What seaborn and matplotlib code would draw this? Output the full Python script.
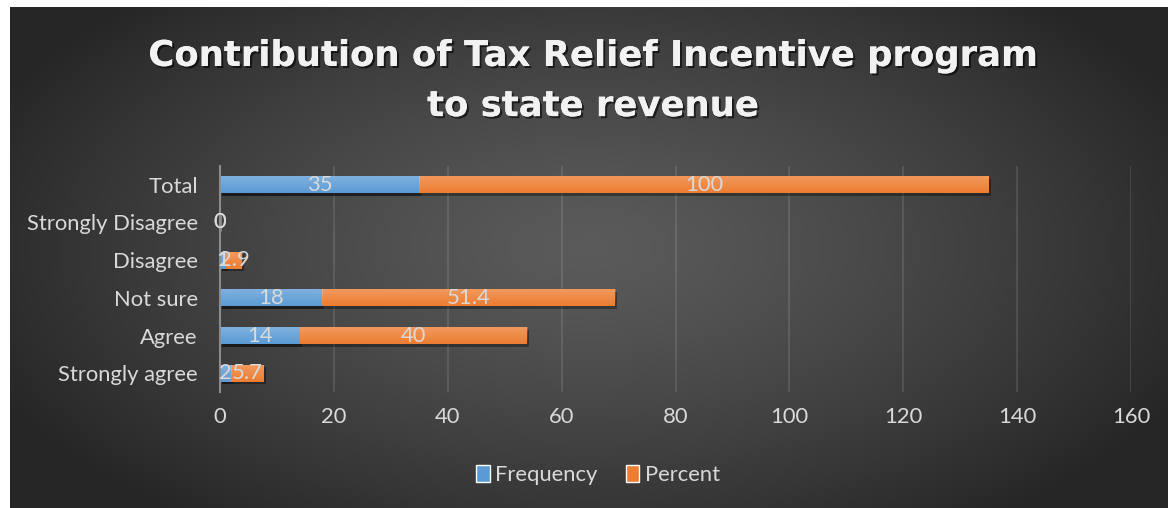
import numpy as np
import pandas as pd
import matplotlib
matplotlib.use("Agg")
import matplotlib.pyplot as plt
import matplotlib.patheffects as pe
from matplotlib.patches import Rectangle
import seaborn as sns

categories = ["Total", "Strongly Disagree", "Disagree", "Not sure", "Agree", "Strongly agree"]
frequency = [35, 0, 1, 18, 14, 2]
percent = [100, 0, 2.9, 51.4, 40, 5.7]
x_ticks = [0, 20, 40, 60, 80, 100, 120, 140, 160]
title_text = "Contribution of Tax Relief Incentive program\nto state revenue"

BLUE = "#5B9BD5"
ORANGE = "#ED7D31"
TEXT = "#D9D9D9"
FS = 15.8

sns.set_theme(style="white")
plt.rcParams["font.family"] = ["Lato", "DejaVu Sans"]

df = pd.DataFrame({"category": categories, "Frequency": frequency, "Percent": percent})
df["stack"] = df["Frequency"] + df["Percent"]

W, H = 1170, 508
fig = plt.figure(figsize=(W / 100, H / 100), dpi=100)
fig.patch.set_facecolor("white")

# dark radial-gradient panel behind the chart
bg = fig.add_axes([10 / W, 0, 1 - 10 / W - 2 / W, 1 - 7 / H])
yy, xx = np.mgrid[0:1:300j, 0:1:700j]
r = np.sqrt(((xx - 0.5) / 0.62) ** 2 + ((yy - 0.48) / 0.75) ** 2)
shade = np.clip(0.355 - 0.23 * r ** 1.3, 0.15, 0.36)
bg.imshow(np.dstack([shade] * 3), aspect="auto", extent=[0, 1, 0, 1], interpolation="bilinear")
bg.set_axis_off()

ax = fig.add_axes([220 / W, 1 - 392 / H, (1131 - 220) / W, (392 - 166) / H])
ax.patch.set_alpha(0)

bar_h = 0.45
sns.barplot(data=df, y="category", x="stack", orient="h", color=ORANGE,
            saturation=1, width=bar_h, ax=ax, zorder=3)
sns.barplot(data=df, y="category", x="Frequency", orient="h", color=BLUE,
            saturation=1, width=bar_h, ax=ax, zorder=4)

# soft drop shadow and top-lit sheen on every bar
grad = np.linspace(1, 0, 50).reshape(-1, 1)
for p in list(ax.patches):
    if p.get_width() <= 0:
        continue
    x0, y0, w, h = p.get_x(), p.get_y(), p.get_width(), p.get_height()
    sh = Rectangle((x0 + 0.35, y0 + 0.07), w, h, facecolor="black", alpha=0.35,
                   edgecolor="none", zorder=2.5)
    ax.add_patch(sh)
    p.set_edgecolor("none")
    im = ax.imshow(np.dstack([np.ones_like(grad)] * 3 + [grad * 0.22]),
                   extent=[x0, x0 + w, y0 + h, y0], aspect="auto",
                   zorder=p.get_zorder() + 0.1, interpolation="bilinear")
    im.set_clip_path(p)

ax.set_xlim(0, 160)
ax.set_ylim(5.5, -0.5)
ax.set_xticks(x_ticks)
ax.set_xticklabels([str(t) for t in x_ticks])
ax.grid(axis="x", color="white", alpha=0.13, linewidth=1.2, zorder=0)
ax.grid(axis="y", visible=False)
ax.set_axisbelow(True)
for s in ["top", "right", "bottom"]:
    ax.spines[s].set_visible(False)
ax.spines["left"].set_color("#8C8C8C")
ax.spines["left"].set_linewidth(1.5)
ax.spines["left"].set_zorder(5)
ax.tick_params(axis="both", length=0, labelcolor=TEXT, labelsize=FS)
ax.tick_params(axis="x", pad=11)
ax.tick_params(axis="y", pad=16)
ax.set_xlabel("")
ax.set_ylabel("")

# value labels centred in each segment
for i, (f, pc) in enumerate(zip(frequency, percent)):
    ax.text(f / 2, i, f"{f:g}", ha="center", va="center", color=TEXT, fontsize=FS, zorder=6)
    ax.text(f + pc / 2, i, f"{pc:g}", ha="center", va="center", color=TEXT, fontsize=FS, zorder=6)

fig.text(593 / W, 1 - 81 / H, title_text, ha="center", va="center", color="#F2F2F2",
         fontsize=25.5, fontweight="bold", linespacing=1.6, family=["DejaVu Sans"],
         path_effects=[pe.withSimplePatchShadow(offset=(1.5, -1.5), shadow_rgbFace="black", alpha=0.6),
                       pe.Normal()])

handles = [Rectangle((0, 0), 1, 1, facecolor=BLUE), Rectangle((0, 0), 1, 1, facecolor=ORANGE)]
fig.legend(handles, ["Frequency", "Percent"], loc="center", bbox_to_anchor=(598 / W, 1 - 475 / H),
           ncol=2, frameon=False, fontsize=FS, labelcolor=TEXT, handlelength=0.6,
           handleheight=0.85, handletextpad=0.25, columnspacing=1.3)

fig.savefig("out.png", dpi=100, facecolor=fig.get_facecolor())
